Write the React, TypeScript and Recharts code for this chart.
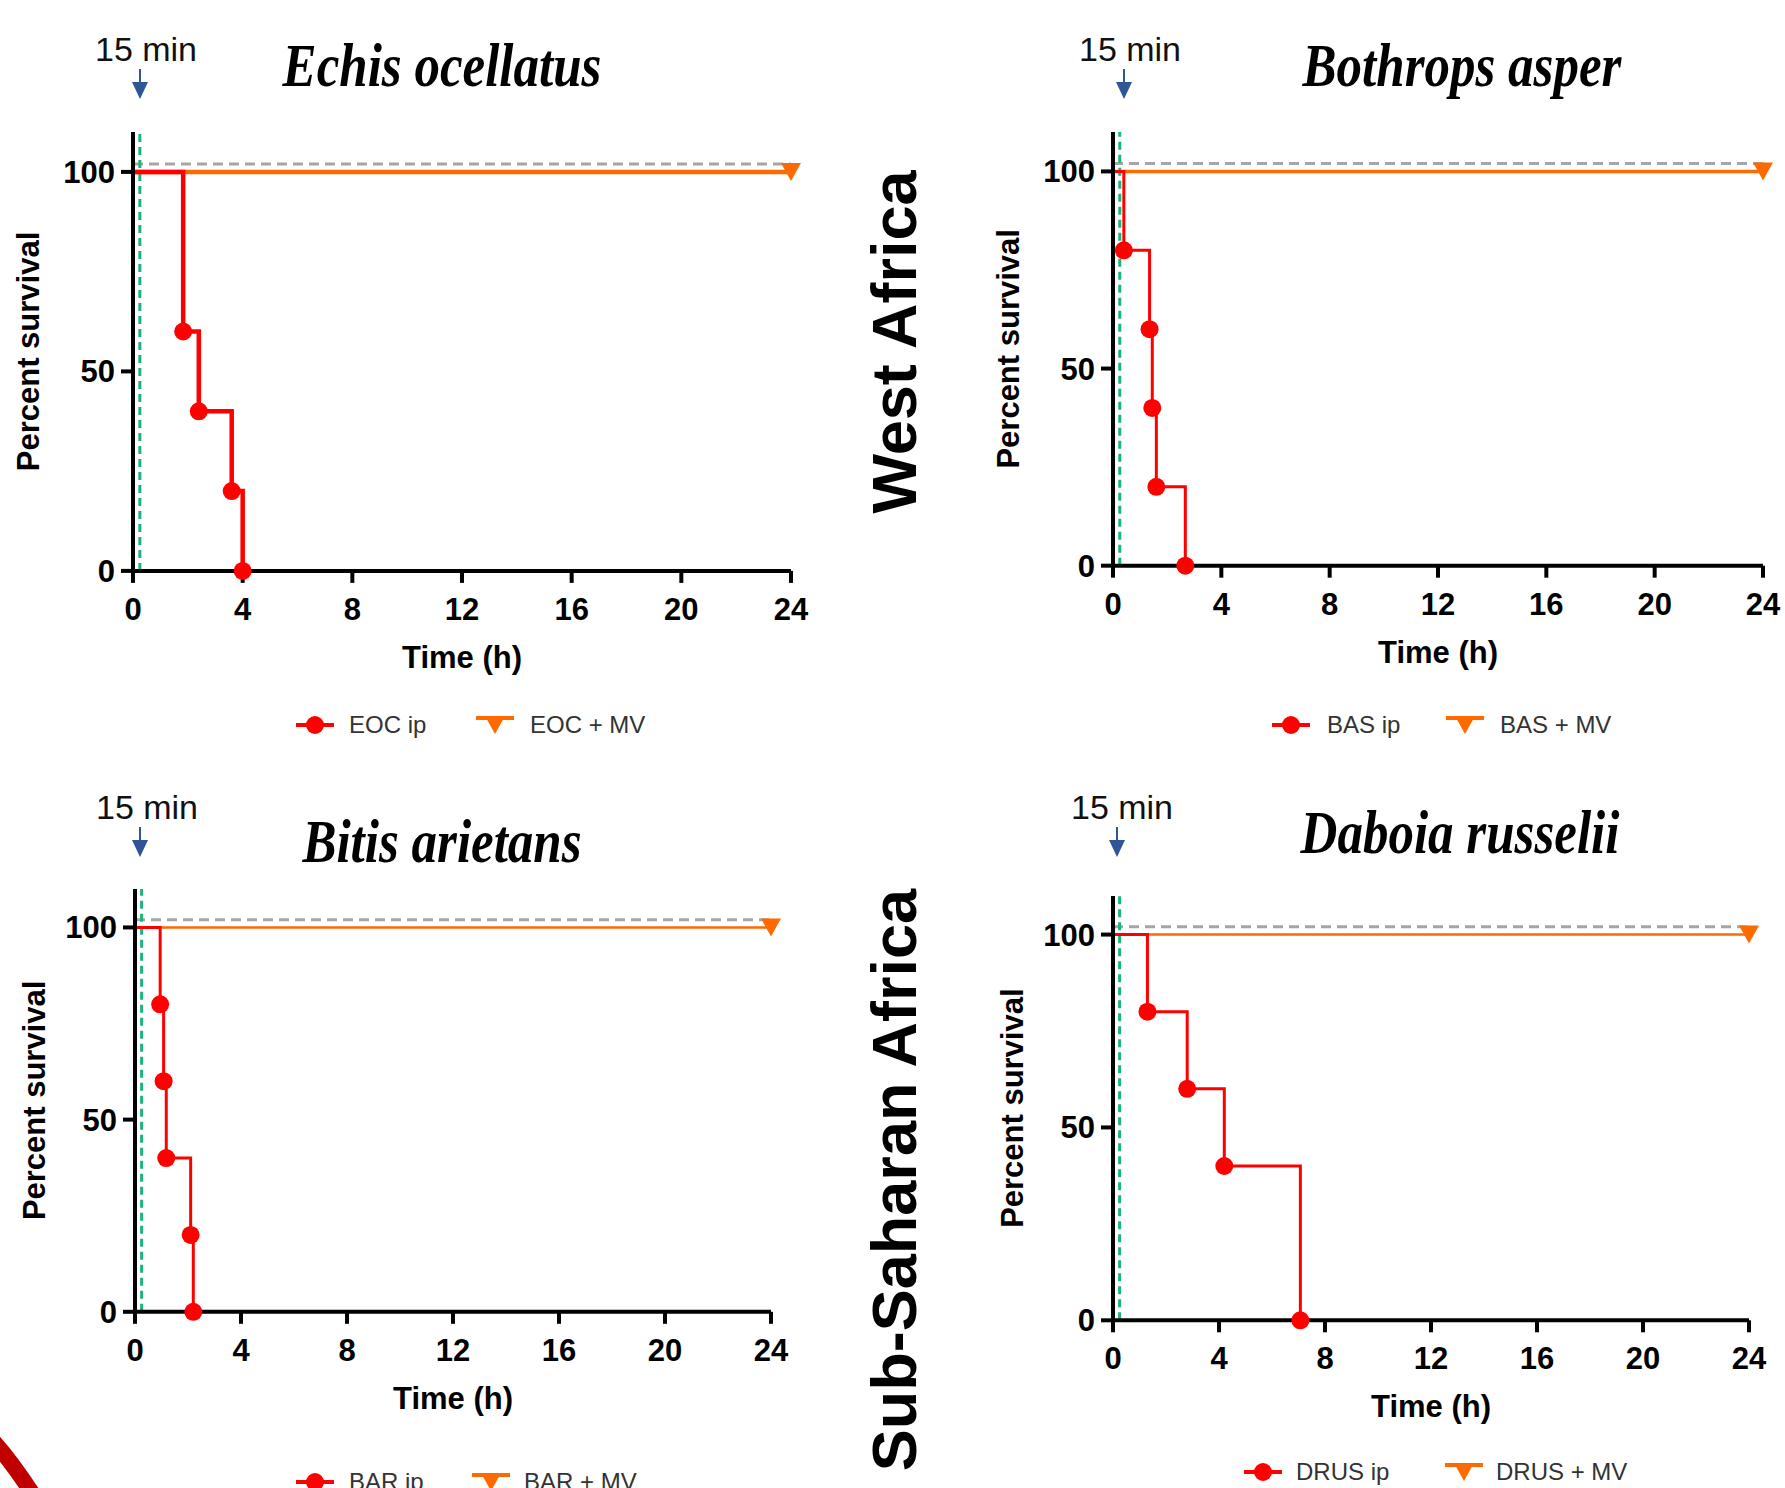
import React from "react";
import { LineChart, Line, XAxis, YAxis, ReferenceLine } from "recharts";

// time (h) ticks and percent ticks shared by all four panels
const xTicks = [0, 4, 8, 12, 16, 20, 24];
const yTicks = [0, 50, 100];
const doseTime = 0.25; // 15 min
const refLevel = 102;

// Kaplan-Meier steps
const eocIp = [
  { t: 0, s: 100 },
  { t: 1.83, s: 60 },
  { t: 2.4, s: 40 },
  { t: 3.6, s: 20 },
  { t: 4.0, s: 0 },
];
const eocMv = [
  { t: 0, s: 100 },
  { t: 24, s: 100 },
];

const basIp = [
  { t: 0, s: 100 },
  { t: 0.4, s: 80 },
  { t: 1.35, s: 60 },
  { t: 1.45, s: 40 },
  { t: 1.6, s: 20 },
  { t: 2.67, s: 0 },
];
const basMv = [
  { t: 0, s: 100 },
  { t: 24, s: 100 },
];

const barIp = [
  { t: 0, s: 100 },
  { t: 0.95, s: 80 },
  { t: 1.08, s: 60 },
  { t: 1.18, s: 40 },
  { t: 2.1, s: 20 },
  { t: 2.2, s: 0 },
];
const barMv = [
  { t: 0, s: 100 },
  { t: 24, s: 100 },
];

const drusIp = [
  { t: 0, s: 100 },
  { t: 1.3, s: 80 },
  { t: 2.8, s: 60 },
  { t: 4.2, s: 40 },
  { t: 7.07, s: 0 },
];
const drusMv = [
  { t: 0, s: 100 },
  { t: 24, s: 100 },
];

const RED = "#ff0000";
const ORANGE = "#ff6a00";
const BLUE = "#2f5597";
const SANS = "'Liberation Sans', Arial, sans-serif";

const YW = 130;
const XH = 110;
const MT = 20;
const MR = 30;

type Pt = { t: number; s: number };
type PanelDef = {
  title: string;
  ipName: string;
  mvName: string;
  ip: Pt[];
  mv: Pt[];
  left: number;
  top: number;
  right: number;
  bottom: number;
  ipW: number;
  mvW: number;
  yLabelOff: number;
  legendY: number;
  legendX: number[];
  minX: number;
  minY: number;
  arrowX: number;
  titleX: number;
  titleY: number;
};

const panels: PanelDef[] = [
  {
    title: "Echis ocellatus", ipName: "EOC ip", mvName: "EOC + MV", ip: eocIp, mv: eocMv,
    left: 133, top: 131.8, right: 791, bottom: 570.7, ipW: 4.5, mvW: 4.5, yLabelOff: 25,
    legendY: 725, legendX: [296, 349, 476, 530], minX: 146, minY: 49, arrowX: 140, titleX: 442, titleY: 66,
  },
  {
    title: "Bothrops asper", ipName: "BAS ip", mvName: "BAS + MV", ip: basIp, mv: basMv,
    left: 1113, top: 132.3, right: 1763, bottom: 566, ipW: 3, mvW: 3.5, yLabelOff: 25,
    legendY: 725, legendX: [1272, 1327, 1446, 1500], minX: 1130, minY: 49, arrowX: 1124, titleX: 1462, titleY: 66,
  },
  {
    title: "Bitis arietans", ipName: "BAR ip", mvName: "BAR + MV", ip: barIp, mv: barMv,
    left: 135, top: 888.9, right: 771, bottom: 1311.7, ipW: 3, mvW: 2.5, yLabelOff: 29,
    legendY: 1482, legendX: [296, 349, 472, 524], minX: 147, minY: 807, arrowX: 140, titleX: 442, titleY: 842,
  },
  {
    title: "Daboia russelii", ipName: "DRUS ip", mvName: "DRUS + MV", ip: drusIp, mv: drusMv,
    left: 1113, top: 896.4, right: 1749, bottom: 1320.7, ipW: 3, mvW: 2.5, yLabelOff: 29,
    legendY: 1472, legendX: [1244, 1296, 1445, 1496], minX: 1122, minY: 807, arrowX: 1117, titleX: 1460, titleY: 833,
  },
];

const ipDot = (props: any) => {
  const { cx, cy, index } = props;
  if (index === 0 || cx == null) return <g key={`ipd${index}`} />;
  return <circle key={`ipd${index}`} cx={cx} cy={cy} r={9} fill={RED} />;
};

const mvDot = (last: number) => (props: any) => {
  const { cx, cy, index } = props;
  if (index !== last || cx == null) return <g key={`mvd${index}`} />;
  return (
    <path
      key={`mvd${index}`}
      d={`M${cx - 10},${cy - 9} L${cx + 10},${cy - 9} L${cx},${cy + 9} Z`}
      fill={ORANGE}
    />
  );
};

const tickStyle = { fill: "#000", fontSize: 31, fontWeight: 700 };
const axisStroke = { stroke: "#000", strokeWidth: 4 };

const Panel: React.FC<{ p: PanelDef }> = ({ p }) => {
  const w = p.right - p.left + YW + MR;
  const h = p.bottom - p.top + MT + XH;
  return (
    <div style={{ position: "absolute", left: p.left - YW, top: p.top - MT }}>
      <LineChart width={w} height={h} margin={{ top: MT, right: MR, left: 0, bottom: 0 }}>
        <XAxis
          type="number"
          dataKey="t"
          domain={[0, 24]}
          ticks={xTicks}
          height={XH}
          axisLine={axisStroke}
          tickLine={axisStroke}
          tickSize={12}
          tickMargin={15}
          tick={tickStyle}
          label={{ value: "Time (h)", position: "insideBottom", offset: 13, fill: "#000", fontSize: 31, fontWeight: 700 }}
        />
        <YAxis
          type="number"
          dataKey="s"
          domain={[0, 110]}
          ticks={yTicks}
          width={YW}
          axisLine={axisStroke}
          tickLine={axisStroke}
          tickSize={12}
          tickMargin={6}
          tick={tickStyle}
          label={{
            value: "Percent survival",
            angle: -90,
            position: "insideLeft",
            offset: p.yLabelOff,
            fill: "#000",
            fontSize: 31,
            fontWeight: 700,
            style: { textAnchor: "middle" },
          }}
        />
        <ReferenceLine y={refLevel} stroke="#a6a6a6" strokeWidth={3} strokeDasharray="10 6" />
        <ReferenceLine x={doseTime} stroke="#1db37b" strokeWidth={3} strokeDasharray="8 5" />
        <Line
          data={p.mv}
          dataKey="s"
          type="linear"
          stroke={ORANGE}
          strokeWidth={p.mvW}
          dot={mvDot(p.mv.length - 1)}
          activeDot={false}
          isAnimationActive={false}
        />
        <Line
          data={p.ip}
          dataKey="s"
          type="stepAfter"
          stroke={RED}
          strokeWidth={p.ipW}
          dot={ipDot}
          activeDot={false}
          isAnimationActive={false}
        />
      </LineChart>
    </div>
  );
};

const LegendRow: React.FC<{ p: PanelDef }> = ({ p }) => {
  const [m1, t1, m2, t2] = p.legendX;
  const text: React.CSSProperties = {
    position: "absolute",
    top: p.legendY - 14,
    fontSize: 24,
    lineHeight: "28px",
    color: "#333",
    whiteSpace: "nowrap",
  };
  return (
    <>
      <svg style={{ position: "absolute", left: m1, top: p.legendY - 12 }} width={38} height={24}>
        <line x1={0} y1={12} x2={38} y2={12} stroke={RED} strokeWidth={4} />
        <circle cx={19} cy={12} r={9} fill={RED} />
      </svg>
      <div style={{ ...text, left: t1 }}>{p.ipName}</div>
      <svg style={{ position: "absolute", left: m2, top: p.legendY - 12 }} width={38} height={24}>
        <line x1={0} y1={5} x2={38} y2={5} stroke={ORANGE} strokeWidth={4} />
        <path d="M9,3 L29,3 L19,21 Z" fill={ORANGE} />
      </svg>
      <div style={{ ...text, left: t2 }}>{p.mvName}</div>
    </>
  );
};

const Header: React.FC<{ p: PanelDef }> = ({ p }) => (
  <>
    <div
      style={{
        position: "absolute",
        left: p.minX - 53,
        top: p.minY - 20,
        width: 106,
        textAlign: "center",
        fontSize: 34,
        lineHeight: "40px",
        color: "#111",
        whiteSpace: "nowrap",
      }}
    >
      15 min
    </div>
    <svg style={{ position: "absolute", left: p.arrowX - 10, top: p.minY + 20 }} width={20} height={32}>
      <line x1={10} y1={0} x2={10} y2={16} stroke={BLUE} strokeWidth={2} />
      <path d="M2,13 L18,13 L10,30 Z" fill={BLUE} />
    </svg>
    <div
      style={{
        position: "absolute",
        left: p.titleX - 250,
        top: p.titleY - 30,
        width: 500,
        textAlign: "center",
        fontFamily: "'Liberation Serif', 'Times New Roman', serif",
        fontStyle: "italic",
        fontWeight: 700,
        fontSize: 51,
        lineHeight: "60px",
        color: "#000",
        transform: "scaleY(1.2)",
        whiteSpace: "nowrap",
      }}
    >
      {p.title}
    </div>
  </>
);

const regionLabel = (text: string, cx: number, cy: number) => (
  <div
    style={{
      position: "absolute",
      left: cx - 400,
      top: cy - 40,
      width: 800,
      height: 80,
      lineHeight: "80px",
      textAlign: "center",
      fontSize: 63,
      fontWeight: 700,
      color: "#000",
      transform: "rotate(-90deg)",
      whiteSpace: "nowrap",
    }}
  >
    {text}
  </div>
);

export default function App() {
  return (
    <div
      style={{
        position: "absolute",
        left: 0,
        top: 0,
        width: 1785,
        height: 1488,
        overflow: "hidden",
        background: "#fff",
        fontFamily: SANS,
      }}
    >
      {panels.map((p) => (
        <React.Fragment key={p.title}>
          <Panel p={p} />
          <LegendRow p={p} />
          <Header p={p} />
        </React.Fragment>
      ))}
      {regionLabel("West Africa", 894, 342)}
      {regionLabel("Sub-Saharan Africa", 894, 1180)}
      <svg style={{ position: "absolute", left: 0, top: 1430 }} width={60} height={58}>
        <path d="M-6,12 Q12,32 34,66" stroke="#c00000" strokeWidth={16} fill="none" />
      </svg>
    </div>
  );
}
